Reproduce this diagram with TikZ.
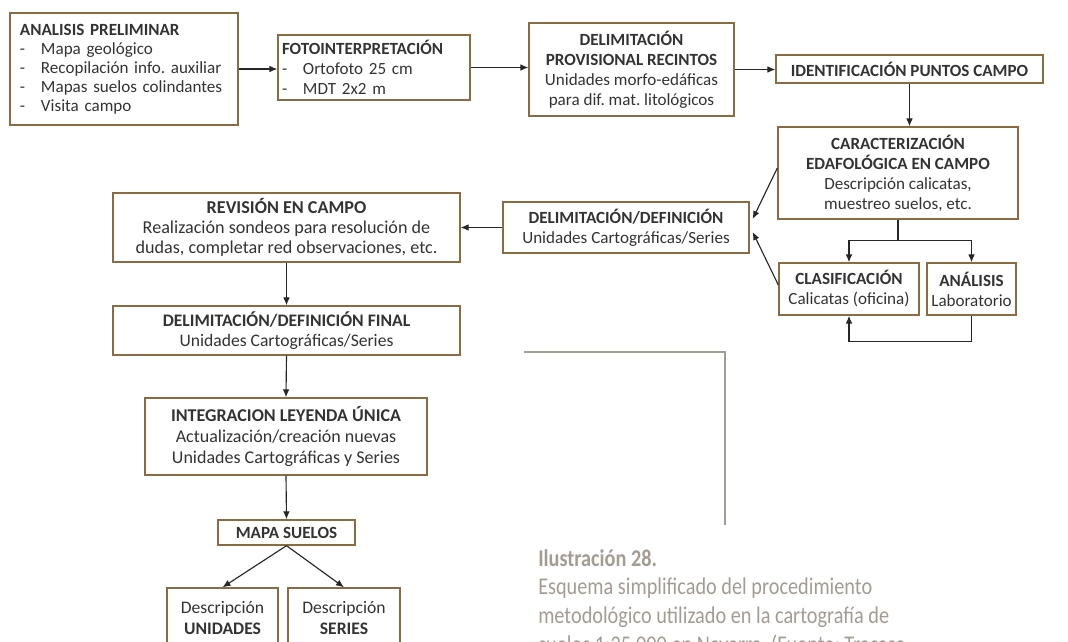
\documentclass[tikz,border=0pt]{standalone}
\usepackage{fontspec}
\setmainfont{Carlito}
\newfontfamily\capfont{Carlito}[FakeStretch=0.845]
\usetikzlibrary{arrows.meta,calc}
\definecolor{borde}{HTML}{8C6B42}
\definecolor{texto}{HTML}{333333}
\definecolor{gris}{HTML}{A39C93}
\newcommand{\itm}[1]{\makebox[15.75pt][l]{-}#1}
\frenchspacing

\begin{document}
\begin{tikzpicture}[x=0.75pt,y=-0.75pt,
    caja/.style={draw=borde,line width=1pt,text=texto,align=center,inner sep=0pt,font=\fontsize{12.8}{15}\selectfont},
    flecha/.style={-{Latex[length=6pt,width=5pt]},line width=0.85pt,draw=black!85}]
    \path[use as bounding box,clip] (0,0) rectangle (1068,642);
    % fila superior
    \node[caja,align=left,inner xsep=7.5pt,text width=156pt,minimum height=84pt,font=\fontsize{12.8}{14.25}\selectfont] (ana) at (124,69)
        {\textbf{ANALISIS PRELIMINAR}\\\itm{Mapa geológico}\\\itm{Recopilación info. auxiliar}\\\itm{Mapas suelos colindantes}\\\itm{Visita campo}};
    \node[caja,align=left,inner xsep=3pt,text width=138pt,minimum height=48.75pt] (foto) at (374,67.5)
        {\textbf{FOTOINTERPRETACIÓN}\\\itm{Ortofoto 25 cm}\\\itm{MDT 2x2 m}};
    \node[caja,minimum width=153.75pt,minimum height=69.75pt] (prov) at (631.5,69.5)
        {\textbf{DELIMITACIÓN}\\\textbf{PROVISIONAL RECINTOS}\\Unidades morfo-edáficas\\para dif. mat. litológicos};
    \node[caja,minimum width=200.25pt,minimum height=21pt] (ident) at (909.5,69) {\textbf{IDENTIFICACIÓN PUNTOS CAMPO}};
    % bloque derecho
    \node[caja,minimum width=180pt,minimum height=69pt] (carac) at (898,173)
        {\textbf{CARACTERIZACIÓN}\\\textbf{EDAFOLÓGICA EN CAMPO}\\Descripción calicatas,\\muestreo suelos, etc.};
    \node[caja,minimum width=184.5pt,minimum height=38.25pt] (defi) at (626,227.5)
        {\textbf{DELIMITACIÓN/DEFINICIÓN}\\Unidades Cartográficas/Series};
    \node[caja,minimum width=105pt,minimum height=39pt] (clas) at (849,289) {\textbf{CLASIFICACIÓN}\\Calicatas (oficina)};
    \node[caja,minimum width=66.75pt,minimum height=39pt] (lab) at (971.5,289) {\textbf{ANÁLISIS}\\Laboratorio};
    % columna izquierda
    \node[caja,minimum width=260.25pt,minimum height=51.75pt,font=\fontsize{13.6}{15.2}\selectfont] (revi) at (286.5,227.5)
        {\textbf{REVISIÓN EN CAMPO}\\Realización sondeos para resolución de\\dudas, completar red observaciones, etc.};
    \node[caja,minimum width=260.25pt,minimum height=36.75pt,font=\fontsize{13.2}{15}\selectfont] (final) at (286.5,330.5)
        {\textbf{DELIMITACIÓN/DEFINICIÓN FINAL}\\Unidades Cartográficas/Series};
    \node[caja,minimum width=211.5pt,minimum height=57.75pt,font=\fontsize{13.5}{15.5}\selectfont] (integ) at (286,436.5)
        {\textbf{INTEGRACION LEYENDA ÚNICA}\\Actualización/creación nuevas\\Unidades Cartográficas y Series};
    \node[caja,minimum width=102.75pt,minimum height=18.75pt] (mapa) at (286.5,532.5) {\textbf{MAPA SUELOS}};
    \node[caja,minimum width=83.25pt,minimum height=45pt,font=\fontsize{13.2}{15.5}\selectfont] (unid) at (222.5,618) {Descripción\\\textbf{UNIDADES}};
    \node[caja,minimum width=84pt,minimum height=45pt,font=\fontsize{13.2}{15.5}\selectfont] (seri) at (344,618) {Descripción\\\textbf{SERIES}};
    % conectores
    \draw[flecha] (ana.east) -- (ana.east -| foto.west);
    \draw[flecha] (foto.east) -- (foto.east -| prov.west);
    \draw[flecha] (prov.east) -- (prov.east -| ident.west);
    \draw[flecha] (ident.south) -- (ident.south |- carac.north);
    \draw[flecha] ($(carac.west)+(0,-5)$) -- ($(defi.east)+(3,-8.5)$);
    \draw[flecha] ($(clas.west)+(0,-4)$) -- ($(defi.east)+(3,4.5)$);
    \draw[line width=0.85pt,black!85] (carac.south) -- ++(0,21) coordinate (rama);
    \draw[flecha] (rama) -| (clas.north);
    \draw[flecha] (rama) -| (lab.north);
    \draw[flecha] (lab.south) -- ++(0,26) -| (clas.south);
    \draw[flecha] (defi.west) -- (revi.east);
    \foreach \a/\b in {revi/final,final/integ,integ/mapa} \draw[flecha] (\a.south) -- (\b.north);
    \foreach \b in {unid,seri} \draw[flecha] (mapa.south) -- (\b.north);
    % pie
    \draw[gris,line width=0.8pt] (524,352) -| (725,525);
    \node[anchor=north west,align=left,inner sep=0pt,text=gris,font=\capfont\fontsize{18}{21.5}\selectfont] (pie) at (538,549)
        {\textbf{Ilustración 28.}\\Esquema simplificado del procedimiento\\metodológico utilizado en la cartografía de\\suelos 1:25.000 en Navarra. (Fuente: Tracasa};
\end{tikzpicture}
\end{document}
